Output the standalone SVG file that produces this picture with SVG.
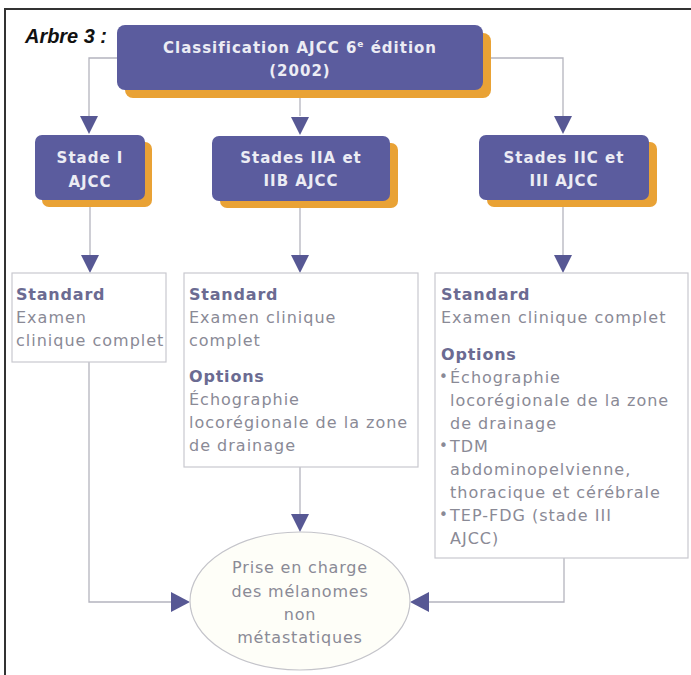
<svg xmlns="http://www.w3.org/2000/svg" width="691" height="675" viewBox="0 0 691 675">
  <defs>
    <style>
      .frame { fill: none; stroke: #333333; stroke-width: 2; }
      .title { font-family: "Liberation Sans Narrow", "Liberation Sans", Arial, sans-serif; font-weight: bold; font-style: italic; font-size: 20px; fill: #111111; }
      .shadow { fill: #e9a235; }
      .stage { fill: #5b5c9e; }
      .stage-text { font-family: "DejaVu Sans", Verdana, sans-serif; font-weight: bold; font-size: 15px; letter-spacing: 1px; fill: #ececf4; text-anchor: middle; }
      .panel { fill: #ffffff; stroke: #c9c9cf; stroke-width: 1.2; }
      .head { font-family: "DejaVu Sans", Verdana, sans-serif; font-weight: bold; font-size: 16px; letter-spacing: 0.8px; fill: #6b6b92; }
      .body { font-family: "DejaVu Sans", Verdana, sans-serif; font-size: 16px; letter-spacing: 1px; fill: #8a8a96; }
      .bullet { font-family: "DejaVu Sans", Verdana, sans-serif; font-size: 15px; fill: #8a8a96; }
      .link { fill: none; stroke: #b4b4be; stroke-width: 1.3; }
      .arrow { fill: #575894; }
      .goal { fill: #fefef8; stroke: #c4c4ca; stroke-width: 1.2; }
      .goal-text { font-family: "DejaVu Sans", Verdana, sans-serif; font-size: 16px; letter-spacing: 0.8px; fill: #8a8a96; text-anchor: middle; }
    </style>
    <path id="tri-down" class="arrow" d="M -9 0 L 9 0 L 0 18 Z"/>
  </defs>

  <rect width="691" height="675" fill="#ffffff"/>

  <!-- page frame -->
  <path class="frame" d="M 5 675 L 5 9 L 691 9"/>

  <text class="title" x="25" y="43" textLength="82" lengthAdjust="spacingAndGlyphs">Arbre 3 :</text>

  <!-- connectors -->
  <g id="connectors">
    <path class="link" d="M 117 58 L 89 58 L 89 116"/>
    <path class="link" d="M 300 90 L 300 116"/>
    <path class="link" d="M 491 58 L 563 58 L 563 116"/>
    <path class="link" d="M 90 200 L 90 255"/>
    <path class="link" d="M 300 201 L 300 255"/>
    <path class="link" d="M 563 200 L 563 255"/>
    <path class="link" d="M 89 362 L 89 602 L 172 602"/>
    <path class="link" d="M 300 467 L 300 515"/>
    <path class="link" d="M 564 558 L 564 602 L 428 602"/>

    <use href="#tri-down" x="89" y="116"/>
    <use href="#tri-down" x="300" y="117"/>
    <use href="#tri-down" x="563" y="116"/>
    <use href="#tri-down" x="90" y="255"/>
    <use href="#tri-down" x="300" y="255"/>
    <use href="#tri-down" x="563" y="255"/>
    <use href="#tri-down" x="300" y="514"/>
    <path class="arrow" d="M 171 592 L 171 612 L 190 602 Z"/>
    <path class="arrow" d="M 429 592 L 429 612 L 410 602 Z"/>
  </g>

  <!-- top classification node -->
  <g id="node-classification">
    <rect class="shadow" x="125" y="33" width="366" height="65" rx="8"/>
    <rect class="stage" x="117" y="25" width="366" height="65" rx="8"/>
    <text class="stage-text" x="300" y="53" letter-spacing="1.4">Classification AJCC 6<tspan font-size="9" dy="-6">e</tspan><tspan dy="6"> édition</tspan></text>
    <text class="stage-text" x="300" y="76">(2002)</text>
  </g>

  <!-- stage nodes -->
  <g id="node-stade-1">
    <rect class="shadow" x="42" y="142" width="110" height="65" rx="7"/>
    <rect class="stage" x="35" y="135" width="110" height="65" rx="7"/>
    <text class="stage-text" x="90" y="163">Stade I</text>
    <text class="stage-text" x="90" y="187">AJCC</text>
  </g>

  <g id="node-stades-2ab">
    <rect class="shadow" x="220" y="143" width="178" height="65" rx="7"/>
    <rect class="stage" x="212" y="136" width="178" height="65" rx="7"/>
    <text class="stage-text" x="301" y="163">Stades IIA et</text>
    <text class="stage-text" x="301" y="186">IIB AJCC</text>
  </g>

  <g id="node-stades-2c3">
    <rect class="shadow" x="487" y="142" width="170" height="65" rx="7"/>
    <rect class="stage" x="479" y="135" width="170" height="65" rx="7"/>
    <text class="stage-text" x="564" y="163">Stades IIC et</text>
    <text class="stage-text" x="564" y="186">III AJCC</text>
  </g>

  <!-- work-up panels -->
  <g id="panel-stade-1">
    <rect class="panel" x="12" y="273" width="154" height="89"/>
    <text class="head" x="16" y="300">Standard</text>
    <text class="body" x="16" y="323">Examen</text>
    <text class="body" x="16" y="346">clinique complet</text>
  </g>

  <g id="panel-stades-2ab">
    <rect class="panel" x="184" y="273" width="234" height="194"/>
    <text class="head" x="189" y="300">Standard</text>
    <text class="body" x="189" y="323">Examen clinique</text>
    <text class="body" x="189" y="346">complet</text>
    <text class="head" x="189" y="382">Options</text>
    <text class="body" x="189" y="405">Échographie</text>
    <text class="body" x="189" y="428">locorégionale de la zone</text>
    <text class="body" x="189" y="451">de drainage</text>
  </g>

  <g id="panel-stades-2c3">
    <rect class="panel" x="435" y="273" width="253" height="285"/>
    <text class="head" x="441" y="300">Standard</text>
    <text class="body" x="441" y="323">Examen clinique complet</text>
    <text class="head" x="441" y="360">Options</text>
    <text class="bullet" x="439" y="382">•</text>
    <text class="body" x="450" y="383">Échographie</text>
    <text class="body" x="450" y="406">locorégionale de la zone</text>
    <text class="body" x="450" y="429">de drainage</text>
    <text class="bullet" x="439" y="451">•</text>
    <text class="body" x="450" y="452">TDM</text>
    <text class="body" x="450" y="475">abdominopelvienne,</text>
    <text class="body" x="450" y="498">thoracique et cérébrale</text>
    <text class="bullet" x="439" y="520">•</text>
    <text class="body" x="450" y="521">TEP-FDG (stade III</text>
    <text class="body" x="450" y="544">AJCC)</text>
  </g>

  <!-- outcome -->
  <g id="node-prise-en-charge">
    <ellipse class="goal" cx="300" cy="601" rx="110" ry="69"/>
    <text class="goal-text" x="300" y="573">Prise en charge</text>
    <text class="goal-text" x="300" y="597">des mélanomes</text>
    <text class="goal-text" x="300" y="620">non</text>
    <text class="goal-text" x="300" y="643">métastatiques</text>
  </g>
</svg>
